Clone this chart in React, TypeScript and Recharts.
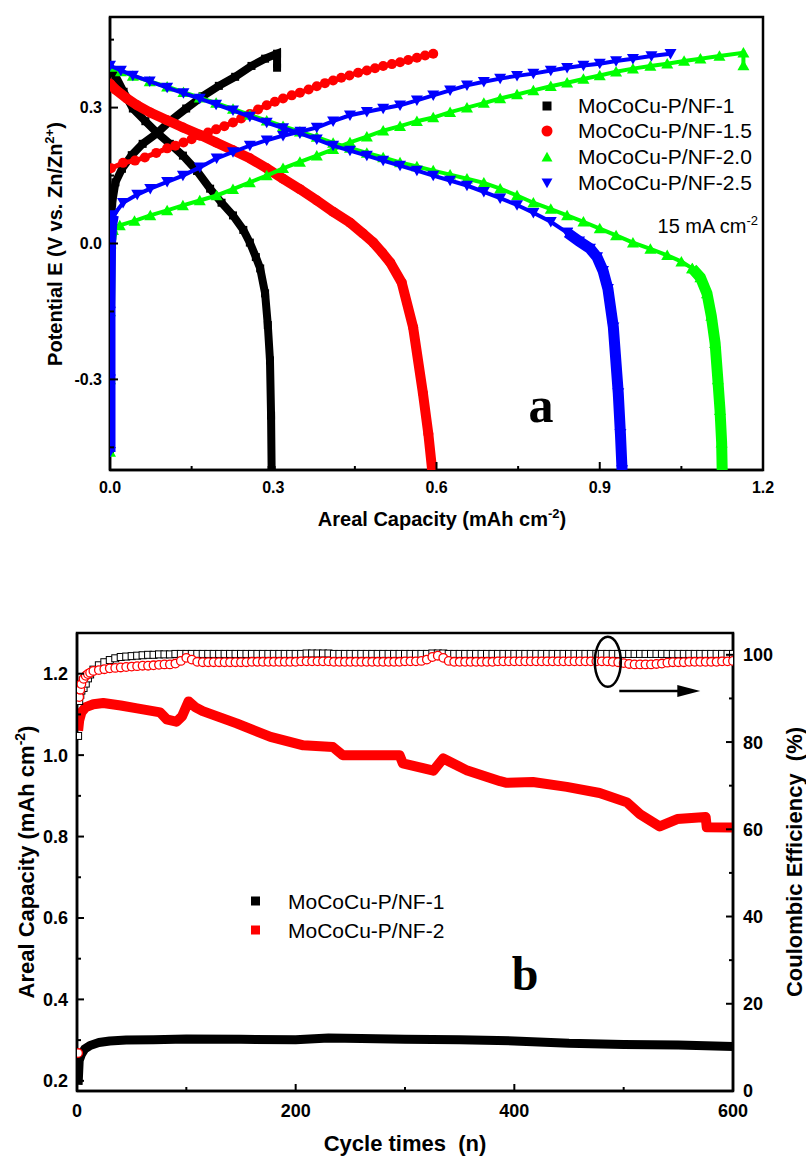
import React from 'react';
import {
  ScatterChart, Scatter, LineChart, Line, XAxis, YAxis, ReferenceArea, ReferenceDot,
} from 'recharts';

const SANS = "'Liberation Sans', Arial, Helvetica, sans-serif";
const SERIF = "'Liberation Serif', 'Times New Roman', serif";

// ---- (a) charge / discharge at 15 mA cm-2 : [capacity mAh cm-2, potential V]
const nf1Charge = [
  [0, -0.46], [0, -0.25], [0, -0.05], [0.001, 0.03], [0.004, 0.09], [0.01, 0.135], [0.022, 0.165],
  [0.04, 0.195], [0.06, 0.22], [0.086, 0.243], [0.11, 0.27], [0.14, 0.298], [0.17, 0.325],
  [0.2, 0.348], [0.23, 0.368], [0.26, 0.392], [0.285, 0.408], [0.307, 0.419], [0.307, 0.388],
];
const nf1Discharge = [
  [0, 0.386], [0.01, 0.37], [0.025, 0.335], [0.042, 0.298], [0.065, 0.27], [0.086, 0.245],
  [0.11, 0.22], [0.134, 0.194], [0.16, 0.16], [0.184, 0.121], [0.205, 0.09], [0.226, 0.062],
  [0.245, 0.03], [0.257, 0.002], [0.268, -0.03], [0.276, -0.055], [0.285, -0.11], [0.29, -0.18],
  [0.294, -0.258], [0.296, -0.38], [0.297, -0.5],
];
const nf15Charge = [
  [0.002, 0.166], [0.024, 0.178], [0.046, 0.183], [0.064, 0.19], [0.085, 0.2], [0.105, 0.21],
  [0.12, 0.216], [0.135, 0.223], [0.15, 0.23], [0.165, 0.238], [0.18, 0.245], [0.195, 0.252],
  [0.21, 0.259], [0.226, 0.267], [0.241, 0.276], [0.257, 0.286], [0.272, 0.296], [0.288, 0.305],
  [0.303, 0.313], [0.318, 0.32], [0.334, 0.327], [0.349, 0.333], [0.365, 0.34], [0.38, 0.347],
  [0.395, 0.354], [0.41, 0.36], [0.425, 0.366], [0.44, 0.371], [0.456, 0.377], [0.472, 0.382],
  [0.487, 0.387], [0.502, 0.392], [0.518, 0.396], [0.533, 0.4], [0.548, 0.405], [0.564, 0.41],
  [0.579, 0.415], [0.594, 0.419],
];
const nf15Discharge = [
  [0, 0.353], [0.01, 0.34], [0.031, 0.32], [0.05, 0.305], [0.074, 0.289], [0.105, 0.272],
  [0.134, 0.256], [0.165, 0.24], [0.195, 0.223], [0.226, 0.206], [0.257, 0.188], [0.288, 0.166],
  [0.318, 0.143], [0.349, 0.12], [0.38, 0.095], [0.41, 0.07], [0.441, 0.046], [0.465, 0.022],
  [0.484, 0.002], [0.5, -0.02], [0.515, -0.042], [0.536, -0.086], [0.557, -0.185], [0.575, -0.33],
  [0.585, -0.42], [0.592, -0.5],
];
const nf20Rise = [[0, -0.46], [0, -0.3], [0, -0.15], [0.001, 0.0], [0.005, 0.03]];
const nf20Charge = [
  [0.005, 0.03], [0.018, 0.04], [0.045, 0.05], [0.074, 0.062],
  [0.105, 0.073], [0.134, 0.084], [0.165, 0.095], [0.196, 0.106], [0.226, 0.12], [0.257, 0.135],
  [0.288, 0.15], [0.318, 0.166], [0.349, 0.18], [0.38, 0.194], [0.41, 0.208], [0.441, 0.223],
  [0.472, 0.236], [0.502, 0.249], [0.533, 0.259], [0.564, 0.27], [0.594, 0.278], [0.625, 0.29],
  [0.656, 0.3], [0.687, 0.31], [0.717, 0.32], [0.748, 0.329], [0.778, 0.338], [0.81, 0.347],
  [0.84, 0.355], [0.87, 0.363], [0.9, 0.371], [0.93, 0.379], [0.961, 0.386], [0.993, 0.392],
  [1.024, 0.397], [1.055, 0.403], [1.085, 0.408], [1.12, 0.414], [1.164, 0.421], [1.164, 0.393],
];
const nf20Discharge = [
  [0, 0.39], [0.02, 0.38], [0.042, 0.37], [0.073, 0.358], [0.105, 0.346], [0.135, 0.334],
  [0.165, 0.322], [0.195, 0.31], [0.226, 0.297], [0.257, 0.284], [0.288, 0.271], [0.318, 0.259],
  [0.349, 0.247], [0.38, 0.235], [0.41, 0.222], [0.441, 0.211], [0.472, 0.2], [0.502, 0.19],
  [0.533, 0.179], [0.564, 0.17], [0.594, 0.161], [0.625, 0.152], [0.656, 0.143], [0.687, 0.134],
  [0.717, 0.121], [0.748, 0.106], [0.778, 0.09], [0.81, 0.076], [0.84, 0.062], [0.87, 0.048],
  [0.9, 0.033], [0.93, 0.018], [0.961, 0.002], [0.993, -0.012], [1.024, -0.026], [1.05, -0.04],
  [1.07, -0.055],
];
const nf20Tail = [
  [1.07, -0.055], [1.085, -0.075], [1.097, -0.11], [1.105, -0.16], [1.112, -0.22], [1.117, -0.3],
  [1.121, -0.368], [1.124, -0.44], [1.125, -0.5],
];
const nf25Rise = [[0, -0.46], [0, -0.3], [0, -0.15], [0.001, 0.0], [0.003, 0.04], [0.006, 0.062]];
const nf25Charge = [
  [0.006, 0.062], [0.024, 0.09], [0.05, 0.108],
  [0.074, 0.121], [0.105, 0.136], [0.134, 0.15], [0.165, 0.168], [0.196, 0.188], [0.226, 0.202],
  [0.257, 0.216], [0.288, 0.228], [0.318, 0.238], [0.35, 0.247], [0.38, 0.256], [0.41, 0.27],
  [0.441, 0.283], [0.472, 0.291], [0.502, 0.298], [0.533, 0.305], [0.564, 0.316], [0.594, 0.327],
  [0.625, 0.338], [0.656, 0.349], [0.687, 0.357], [0.717, 0.364], [0.748, 0.37], [0.778, 0.375],
  [0.81, 0.382], [0.84, 0.388], [0.87, 0.393], [0.9, 0.397], [0.93, 0.403], [0.961, 0.408],
  [0.995, 0.414], [1.03, 0.419],
];
const nf25Discharge = [
  [0, 0.393], [0.02, 0.382], [0.042, 0.371], [0.073, 0.358], [0.105, 0.344], [0.135, 0.332],
  [0.165, 0.32], [0.195, 0.307], [0.226, 0.294], [0.257, 0.28], [0.288, 0.267], [0.318, 0.255],
  [0.349, 0.243], [0.38, 0.23], [0.41, 0.216], [0.441, 0.205], [0.472, 0.194], [0.502, 0.183],
  [0.533, 0.172], [0.564, 0.161], [0.594, 0.15], [0.625, 0.139], [0.656, 0.128], [0.687, 0.114],
  [0.717, 0.1], [0.748, 0.085], [0.778, 0.068], [0.81, 0.048], [0.84, 0.024],
];
const nf25Tail = [
  [0.84, 0.024], [0.862, 0.005], [0.882, -0.011], [0.895, -0.03], [0.906, -0.06], [0.915, -0.1],
  [0.925, -0.185], [0.934, -0.33], [0.938, -0.42], [0.941, -0.5],
];

const capTicks = [0, 0.15, 0.3, 0.45, 0.6, 0.75, 0.9, 1.05, 1.2];
const capMajor = [0, 0.3, 0.6, 0.9, 1.2];
const eTicks = [-0.45, -0.3, -0.15, 0, 0.15, 0.3, 0.45];
const eMajor = [-0.3, 0, 0.3];

// ---- (b) cycling: [cycle, areal capacity]
const capNF1 = [
  [1, 0.19], [2, 0.25], [4, 0.265], [7, 0.278], [12, 0.287], [20, 0.294], [30, 0.298], [45, 0.3],
  [70, 0.301], [100, 0.303], [150, 0.302], [200, 0.301], [230, 0.305], [260, 0.304], [300, 0.302],
  [350, 0.301], [400, 0.298], [450, 0.292], [500, 0.289], [550, 0.288], [600, 0.284],
];
const capNF2 = [
  [1, 1.06], [2, 1.085], [4, 1.105], [8, 1.118], [15, 1.125], [24, 1.128], [40, 1.122], [55, 1.115],
  [76, 1.105], [82, 1.088], [91, 1.082], [96, 1.095], [102, 1.132], [108, 1.118], [115, 1.108],
  [146, 1.078], [177, 1.045], [207, 1.024], [234, 1.02], [243, 1.0], [268, 1.0], [295, 1.0],
  [298, 0.98], [326, 0.962], [335, 0.992], [340, 0.985], [357, 0.962], [387, 0.936], [393, 0.932],
  [417, 0.934], [448, 0.922], [478, 0.907], [503, 0.884], [515, 0.855], [533, 0.825], [549, 0.843],
  [575, 0.848], [576, 0.823], [600, 0.822],
];

// coulombic efficiency (%), right axis
const ceCycles = [
  1, 2, 3, 4, 6, 8, 10, 12, 15,
  20, 25, 30, 35, 40, 45, 50, 55, 60, 65,
  70, 75, 80, 85, 90, 95, 100, 105, 110, 115,
  120, 125, 130, 135, 140, 145, 150, 155, 160, 165,
  170, 175, 180, 185, 190, 195, 200, 205, 210, 215,
  220, 225, 230, 235, 240, 245, 250, 255, 260, 265,
  270, 275, 280, 285, 290, 295, 300, 305, 310, 315,
  320, 325, 330, 335, 340, 345, 350, 355, 360, 365,
  370, 375, 380, 385, 390, 395, 400, 405, 410, 415,
  420, 425, 430, 435, 440, 445, 450, 455, 460, 465,
  470, 475, 480, 485, 490, 495, 500, 505, 510, 515,
  520, 525, 530, 535, 540, 545, 550, 555, 560, 565,
  570, 575, 580, 585, 590, 595, 600,
];
const ceNF1 = [
  81.4, 89.4, 90.8, 91.8, 92.4, 93.4, 94.6, 95.5, 96.6,
  97.6, 98.3, 98.8, 99.2, 99.5, 99.6, 99.7, 99.8, 99.9, 100.0,
  100.0, 100.1, 100.1, 100.1, 100.2, 100.2, 100.2, 100.2, 100.2, 100.2,
  100.2, 100.2, 100.2, 100.2, 100.2, 100.2, 100.2, 100.2, 100.2, 100.2,
  100.2, 100.2, 100.2, 100.2, 100.2, 100.2, 100.2, 100.2, 100.3, 100.3,
  100.3, 100.3, 100.3, 100.2, 100.2, 100.2, 100.2, 100.2, 100.2, 100.2,
  100.2, 100.2, 100.2, 100.2, 100.2, 100.2, 100.2, 100.2, 100.2, 100.2,
  100.2, 100.3, 100.3, 100.3, 100.2, 100.2, 100.2, 100.2, 100.2, 100.2,
  100.2, 100.2, 100.2, 100.2, 100.2, 100.2, 100.2, 100.2, 100.2, 100.2,
  100.2, 100.2, 100.2, 100.2, 100.2, 100.2, 100.2, 100.2, 100.2, 100.2,
  100.2, 100.2, 100.2, 100.2, 100.2, 100.2, 100.2, 100.2, 100.2, 100.2,
  100.2, 100.2, 100.2, 100.2, 100.2, 100.2, 100.2, 100.2, 100.2, 100.2,
  100.2, 100.2, 100.2, 100.2, 100.2, 100.2, 100.2,
];
const ceNF2 = [
  8.7, 90.3, 92.0, 93.3, 94.5, 95.2, 95.6, 95.9, 96.3,
  96.5, 96.7, 96.9, 97.0, 97.1, 97.2, 97.3, 97.4, 97.5, 97.5,
  97.6, 97.7, 97.8, 97.8, 98.0, 98.6, 99.3, 98.9, 98.4, 98.3,
  98.3, 98.3, 98.3, 98.3, 98.3, 98.3, 98.3, 98.3, 98.4, 98.4,
  98.4, 98.4, 98.4, 98.4, 98.4, 98.4, 98.4, 98.5, 98.5, 98.5,
  98.5, 98.5, 98.5, 98.4, 98.4, 98.4, 98.4, 98.4, 98.4, 98.4,
  98.4, 98.4, 98.4, 98.4, 98.4, 98.4, 98.5, 98.5, 98.5, 98.6,
  98.9, 99.5, 99.8, 99.3, 98.6, 98.4, 98.4, 98.4, 98.4, 98.4,
  98.4, 98.4, 98.4, 98.5, 98.5, 98.5, 98.5, 98.5, 98.5, 98.5,
  98.5, 98.5, 98.5, 98.5, 98.5, 98.5, 98.5, 98.5, 98.5, 98.5,
  98.5, 98.5, 98.5, 98.5, 98.4, 98.3, 98.1, 97.9, 97.8, 97.8,
  97.8, 97.8, 97.9, 98.0, 98.2, 98.3, 98.3, 98.3, 98.4, 98.4,
  98.4, 98.4, 98.4, 98.4, 98.5, 98.5, 98.6,
];

const cycleTicks = [0, 100, 200, 300, 400, 500, 600];
const cycleMajor = [0, 200, 400, 600];
const arealTicks = [0.2, 0.3, 0.4, 0.5, 0.6, 0.7, 0.8, 0.9, 1.0, 1.1, 1.2];
const arealMajor = [0.2, 0.4, 0.6, 0.8, 1.0, 1.2];
const ceTicks = [0, 10, 20, 30, 40, 50, 60, 70, 80, 90, 100];
const ceMajor = [0, 20, 40, 60, 80, 100];

type Kind = 'square' | 'circle' | 'up' | 'down';
type Seg = { data: number[][]; lw: number };

const gcd: { name: string; color: string; kind: Kind; size: number; segs: Seg[] }[] = [
  {
    name: 'MoCoCu-P/NF-1', color: '#000000', kind: 'square', size: 8,
    segs: [{ data: nf1Charge, lw: 8 }, { data: nf1Discharge, lw: 8 }],
  },
  {
    name: 'MoCoCu-P/NF-1.5', color: '#ff0000', kind: 'circle', size: 10,
    segs: [{ data: nf15Charge, lw: 5 }, { data: nf15Discharge, lw: 10 }],
  },
  {
    name: 'MoCoCu-P/NF-2.0', color: '#00ff00', kind: 'up', size: 12,
    segs: [{ data: nf20Rise, lw: 10 }, { data: nf20Charge, lw: 4 }, { data: nf20Discharge, lw: 4 }, { data: nf20Tail, lw: 11 }],
  },
  {
    name: 'MoCoCu-P/NF-2.5', color: '#0000ff', kind: 'down', size: 12,
    segs: [{ data: nf25Rise, lw: 11 }, { data: nf25Charge, lw: 4 }, { data: nf25Discharge, lw: 4 }, { data: nf25Tail, lw: 11 }],
  },
];

const cyc = [
  { name: 'MoCoCu-P/NF-1', color: '#000000' },
  { name: 'MoCoCu-P/NF-2', color: '#ff0000' },
];

const toXY = (a: number[][]) => a.map(([x, y]) => ({ x, y }));
const toNV = (a: number[][]) => a.map(([n, v]) => ({ n, v }));
const toCE = (vals: number[]) => ceCycles.map((n, i) => ({ n, ce: vals[i] }));

function Glyph({ kind, x, y, size, color }: { kind: Kind; x: number; y: number; size: number; color: string }) {
  const h = size / 2;
  if (kind === 'square') return <rect x={x - h} y={y - h} width={size} height={size} fill={color} />;
  if (kind === 'circle') return <circle cx={x} cy={y} r={h} fill={color} />;
  if (kind === 'up') return <polygon points={`${x - h},${y + h * 0.8} ${x + h},${y + h * 0.8} ${x},${y - h * 0.95}`} fill={color} />;
  return <polygon points={`${x - h},${y - h * 0.8} ${x + h},${y - h * 0.8} ${x},${y + h * 0.95}`} fill={color} />;
}

const shapeFor = (kind: Kind, size: number, color: string) => (p: any) => {
  if (p.cx == null || p.cy == null) return <g />;
  return <Glyph kind={kind} x={p.cx} y={p.cy} size={size} color={color} />;
};

type TickCfg = {
  side: 'bottom' | 'left' | 'right';
  majors: number[];
  fmt: (v: number) => string;
  fontSize: number;
  major: number;
  minor: number;
  gap: number;
};

const makeTick = (c: TickCfg) => (props: any) => {
  const { x, y, payload } = props;
  const v = payload.value as number;
  const isMajor = c.majors.some((m) => Math.abs(m - v) < 1e-6);
  const len = isMajor ? c.major : c.minor;
  const txt = { fontFamily: SANS, fontWeight: 'bold' as const, fontSize: c.fontSize, fill: '#000' };
  if (c.side === 'bottom') {
    return (
      <g>
        <line x1={x} x2={x} y1={y} y2={y - len} stroke="#000" strokeWidth={2} />
        {isMajor && <text x={x} y={y + c.gap} textAnchor="middle" {...txt}>{c.fmt(v)}</text>}
      </g>
    );
  }
  if (c.side === 'left') {
    return (
      <g>
        <line x1={x} x2={x + len} y1={y} y2={y} stroke="#000" strokeWidth={2} />
        {isMajor && <text x={x - c.gap} y={y + c.fontSize * 0.36} textAnchor="end" {...txt}>{c.fmt(v)}</text>}
      </g>
    );
  }
  return (
    <g>
      <line x1={x} x2={x - len} y1={y} y2={y} stroke="#000" strokeWidth={2} />
      {isMajor && <text x={x + c.gap} y={y + c.fontSize * 0.36} textAnchor="start" {...txt}>{c.fmt(v)}</text>}
    </g>
  );
};

const axisLine = { stroke: '#000', strokeWidth: 2.5 };
const labelFont = { fontFamily: SANS, fontWeight: 'bold' as const, fill: '#000' };

const xLabelA = () => (
  <text x={442} y={526} textAnchor="middle" fontSize={20} {...labelFont}>
    Areal Capacity (mAh cm<tspan dy={-8} fontSize={13}>-2</tspan><tspan dy={8}>)</tspan>
  </text>
);
const yLabelA = () => (
  <text x={55} y={251} transform="rotate(-90 55 244)" textAnchor="middle" fontSize={20} {...labelFont}>
    Potential E (V vs. Zn/Zn<tspan dy={-8} fontSize={13}>2+</tspan><tspan dy={8}>)</tspan>
  </text>
);
const xLabelB = () => (
  <text x={405} y={571} textAnchor="middle" fontSize={22} style={{ whiteSpace: 'pre' }} {...labelFont}>
    {'Cycle times  (n)'}
  </text>
);
const yLabelB = () => (
  <text x={26} y={290} transform="rotate(-90 26 282)" textAnchor="middle" fontSize={22} {...labelFont}>
    Areal Capacity (mAh cm<tspan dy={-9} fontSize={14}>-2</tspan><tspan dy={9}>)</tspan>
  </text>
);
const y2LabelB = () => (
  <text x={794} y={290} transform="rotate(-90 794 282)" textAnchor="middle" fontSize={22} style={{ whiteSpace: 'pre' }} {...labelFont}>
    {'Coulombic Efficiency  (%)'}
  </text>
);

const legendRowsA = [106, 131, 157, 183];
const legendRowsB = [901, 930];

function GcdChart() {
  return (
    <ScatterChart width={806} height={545} margin={{ top: 17, right: 43, bottom: 0, left: 0 }}>
      <XAxis
        type="number" dataKey="x" domain={[0, 1.2]} ticks={capTicks} interval={0} allowDataOverflow
        height={75} axisLine={axisLine} tickLine={false} tickSize={0} tickMargin={0}
        tick={makeTick({ side: 'bottom', majors: capMajor, fmt: (v) => v.toFixed(1), fontSize: 16, major: 8, minor: 4, gap: 23 })}
        label={xLabelA}
      />
      <YAxis
        type="number" dataKey="y" domain={[-0.5, 0.5]} ticks={eTicks} interval={0} allowDataOverflow
        width={110} axisLine={axisLine} tickLine={false} tickSize={0} tickMargin={0}
        tick={makeTick({ side: 'left', majors: eMajor, fmt: (v) => v.toFixed(1), fontSize: 16, major: 8, minor: 4, gap: 8 })}
        label={yLabelA}
      />
      <ReferenceArea x1={0} x2={1.2} y1={-0.5} y2={0.5} fill="none" fillOpacity={0} stroke="#000" strokeWidth={2.5} ifOverflow="visible" />
      {gcd.flatMap((s) =>
        s.segs.map((seg, j) => (
          <Scatter
            key={`${s.name}-${j}`} data={toXY(seg.data)} fill={s.color} isAnimationActive={false}
            line={{ stroke: s.color, strokeWidth: seg.lw }} shape={shapeFor(s.kind, s.size, s.color)}
          />
        )),
      )}
    </ScatterChart>
  );
}

function CycleChart() {
  return (
    <LineChart width={806} height={580} margin={{ top: 53, right: 0, bottom: 0, left: 0 }}>
      <XAxis
        type="number" dataKey="n" domain={[0, 600]} ticks={cycleTicks} interval={0} allowDataOverflow
        height={69} axisLine={axisLine} tickLine={false} tickSize={0} tickMargin={0}
        tick={makeTick({ side: 'bottom', majors: cycleMajor, fmt: (v) => String(v), fontSize: 18, major: 7, minor: 4, gap: 26 })}
        label={xLabelB}
      />
      <YAxis
        yAxisId="left" type="number" domain={[0.175, 1.3]} ticks={arealTicks} interval={0} allowDataOverflow
        width={77} axisLine={axisLine} tickLine={false} tickSize={0} tickMargin={0}
        tick={makeTick({ side: 'left', majors: arealMajor, fmt: (v) => v.toFixed(1), fontSize: 18, major: 7, minor: 4, gap: 9 })}
        label={yLabelB}
      />
      <YAxis
        yAxisId="right" orientation="right" type="number" domain={[0, 105]} ticks={ceTicks} interval={0} allowDataOverflow
        width={73} axisLine={axisLine} tickLine={false} tickSize={0} tickMargin={0}
        tick={makeTick({ side: 'right', majors: ceMajor, fmt: (v) => String(v), fontSize: 18, major: 7, minor: 4, gap: 10 })}
        label={y2LabelB}
      />
      <ReferenceArea yAxisId="left" x1={0} x2={600} y1={0.175} y2={1.3} fill="none" fillOpacity={0} stroke="#000" strokeWidth={2.5} ifOverflow="visible" />
      <Line
        yAxisId="left" data={toNV(capNF2)} dataKey="v" type="linear" stroke="#ff0000" strokeWidth={10}
        strokeLinejoin="round" dot={false} activeDot={false} isAnimationActive={false}
      />
      <Line
        yAxisId="left" data={toNV(capNF1)} dataKey="v" type="linear" stroke="#000000" strokeWidth={9}
        strokeLinejoin="round" dot={false} activeDot={false} isAnimationActive={false}
      />
      <Line
        yAxisId="right" data={toCE(ceNF1)} dataKey="ce" type="linear" stroke="none" activeDot={false} isAnimationActive={false}
        dot={(p: any) => (
          <rect key={`sq${p.index}`} x={p.cx - 3.5} y={p.cy - 3.5} width={7} height={7} fill="#fff" stroke="#000" strokeWidth={1} />
        )}
      />
      <Line
        yAxisId="right" data={toCE(ceNF2)} dataKey="ce" type="linear" stroke="none" activeDot={false} isAnimationActive={false}
        dot={(p: any) => (
          <circle key={`ci${p.index}`} cx={p.cx} cy={p.cy} r={4.3} fill="#fff" stroke="#ff0000" strokeWidth={1.3} />
        )}
      />
      <ReferenceDot
        yAxisId="right" x={485.5} y={98.4} ifOverflow="visible"
        shape={(p: any) => <ellipse cx={p.cx} cy={p.cy} rx={13} ry={25} fill="none" stroke="#000" strokeWidth={2.5} />}
      />
      <ReferenceDot
        yAxisId="right" x={496} y={91.7} ifOverflow="visible"
        shape={(p: any) => (
          <g>
            <line x1={p.cx} y1={p.cy} x2={p.cx + 62} y2={p.cy} stroke="#000" strokeWidth={2.5} />
            <polygon points={`${p.cx + 58},${p.cy - 6} ${p.cx + 81},${p.cy} ${p.cx + 58},${p.cy + 6}`} fill="#000" />
          </g>
        )}
      />
    </LineChart>
  );
}

export default function App() {
  return (
    <div style={{ position: 'absolute', left: 0, top: 0, width: 806, height: 1160, background: '#fff' }}>
      <div style={{ position: 'absolute', left: 0, top: 0 }}>
        <GcdChart />
      </div>
      <div style={{ position: 'absolute', left: 0, top: 580 }}>
        <CycleChart />
      </div>
      <svg width={806} height={1160} style={{ position: 'absolute', left: 0, top: 0, pointerEvents: 'none' }}>
        {gcd.map((s, i) => (
          <g key={s.name}>
            <Glyph kind={s.kind} x={547} y={legendRowsA[i]} size={s.kind === 'square' ? 9 : 11} color={s.color} />
            <text x={578} y={legendRowsA[i] + 7} fontFamily={SANS} fontSize={21} fill="#000">{s.name}</text>
          </g>
        ))}
        <text x={758} y={233} textAnchor="end" fontFamily={SANS} fontSize={20} fill="#000">
          15 mA cm<tspan dy={-8} fontSize={13}>-2</tspan>
        </text>
        <text x={541} y={422} textAnchor="middle" fontFamily={SERIF} fontWeight="bold" fontSize={50} fill="#000">a</text>
        {cyc.map((s, i) => (
          <g key={s.name}>
            <rect x={251} y={legendRowsB[i] - 4.5} width={9} height={9} fill={s.color} />
            <text x={288} y={legendRowsB[i] + 7.5} fontFamily={SANS} fontSize={21} fill="#000">{s.name}</text>
          </g>
        ))}
        <text x={525} y={990} textAnchor="middle" fontFamily={SERIF} fontWeight="bold" fontSize={48} fill="#000">b</text>
      </svg>
    </div>
  );
}
